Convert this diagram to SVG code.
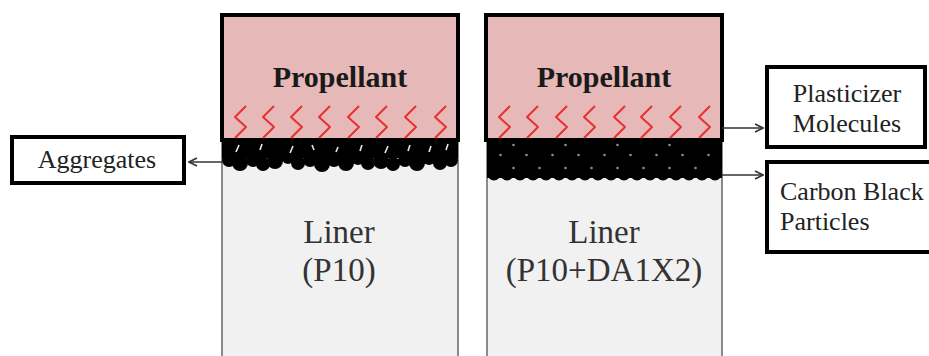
<svg xmlns="http://www.w3.org/2000/svg" width="929" height="356" viewBox="0 0 929 356">
  <style>
    .liner { fill: #f1f1f1; stroke: #8a8a8a; stroke-width: 2; }
    .prop { fill: #e6b9b8; stroke: #000; stroke-width: 4; }
    .label { fill: #fff; stroke: #000; stroke-width: 4; }
    .ptxt { font-family: "Liberation Serif", serif; font-weight: bold; font-size: 30px; fill: #1a1a1a; text-anchor: middle; }
    .ltxt { font-family: "Liberation Serif", serif; font-size: 33px; fill: #333; text-anchor: middle; }
    .btxt { font-family: "Liberation Serif", serif; font-size: 26px; fill: #222; }
    .zig { fill: none; stroke: #e8302f; stroke-width: 2; stroke-linejoin: round; }
    .conn { fill: none; stroke: #333; stroke-width: 1.5; }
    .slit { stroke: #e8e8e8; stroke-width: 1.6; }
  </style>
  <defs>
    <marker id="open" viewBox="0 0 10 10" refX="9" refY="5" markerWidth="10" markerHeight="10" markerUnits="userSpaceOnUse" orient="auto">
      <path d="M1,1 L9,5 L1,9" fill="none" stroke="#333" stroke-width="1.6"/>
    </marker>
    <path id="z" d="M6,0 L-5,11 L6,21 L-5,32"/>
  </defs>

  <rect width="929" height="356" fill="#fff"/>

  <!-- left sample: liner P10 -->
  <g id="liner-p10">
    <rect class="liner" x="222" y="140" width="236" height="220"/>
    <text class="ltxt" x="339" y="243">Liner</text>
    <text class="ltxt" x="339" y="281">(P10)</text>
  </g>

  <!-- right sample: liner P10+DA1X2 -->
  <g id="liner-p10-da1x2">
    <rect class="liner" x="487" y="140" width="235" height="220"/>
    <text class="ltxt" x="604" y="243">Liner</text>
    <text class="ltxt" x="604" y="281">(P10+DA1X2)</text>
  </g>

  <!-- aggregated carbon black at the left interface -->
  <g id="aggregates-layer" fill="#000">
    <rect x="222" y="140" width="236" height="18"/>
    <circle cx="229" cy="160" r="7"/><circle cx="240" cy="163" r="8"/><circle cx="253" cy="160" r="7"/>
    <circle cx="263" cy="164" r="7"/><circle cx="275" cy="161" r="8"/><circle cx="288" cy="158" r="6"/>
    <circle cx="298" cy="163" r="7"/><circle cx="310" cy="160" r="7"/><circle cx="322" cy="164" r="8"/>
    <circle cx="334" cy="160" r="7"/><circle cx="346" cy="163" r="8"/><circle cx="358" cy="159" r="6"/>
    <circle cx="368" cy="163" r="7"/><circle cx="381" cy="161" r="8"/><circle cx="393" cy="164" r="7"/>
    <circle cx="405" cy="160" r="7"/><circle cx="417" cy="163" r="8"/><circle cx="429" cy="159" r="6"/>
    <circle cx="440" cy="163" r="7"/><circle cx="451" cy="160" r="7"/>
  </g>
  <g id="aggregate-gaps" class="slit">
    <line x1="239" y1="145" x2="236" y2="152"/><line x1="262" y1="144" x2="260" y2="150"/>
    <line x1="293" y1="146" x2="290" y2="153"/><line x1="312" y1="145" x2="314" y2="150"/>
    <line x1="338" y1="147" x2="336" y2="152"/><line x1="362" y1="145" x2="360" y2="151"/>
    <line x1="388" y1="146" x2="385" y2="153"/><line x1="410" y1="145" x2="408" y2="151"/>
    <line x1="431" y1="146" x2="429" y2="152"/><line x1="448" y1="144" x2="446" y2="150"/>
  </g>

  <!-- dispersed carbon black particles at the right interface -->
  <g id="particles-layer" fill="#000">
    <rect x="487" y="142" width="235" height="36"/>
    <g id="row1">
      <circle cx="494" cy="149" r="6.5"/><circle cx="507" cy="149" r="6.5"/><circle cx="520" cy="149" r="6.5"/><circle cx="533" cy="149" r="6.5"/><circle cx="546" cy="149" r="6.5"/><circle cx="559" cy="149" r="6.5"/><circle cx="572" cy="149" r="6.5"/><circle cx="585" cy="149" r="6.5"/><circle cx="598" cy="149" r="6.5"/><circle cx="611" cy="149" r="6.5"/><circle cx="624" cy="149" r="6.5"/><circle cx="637" cy="149" r="6.5"/><circle cx="650" cy="149" r="6.5"/><circle cx="663" cy="149" r="6.5"/><circle cx="676" cy="149" r="6.5"/><circle cx="689" cy="149" r="6.5"/><circle cx="702" cy="149" r="6.5"/><circle cx="715" cy="149" r="6.5"/>
    </g>
    <use href="#row1" x="0" y="25"/>
    <use href="#row1" x="0" y="12.5"/>
  </g>
  <g id="particle-gaps" fill="#8d8d8d">
    <circle cx="500.5" cy="155" r="1.3"/><circle cx="526.5" cy="155" r="1.3"/><circle cx="552.5" cy="155" r="1.3"/><circle cx="578.5" cy="155" r="1.3"/><circle cx="604.5" cy="155" r="1.3"/><circle cx="630.5" cy="155" r="1.3"/><circle cx="656.5" cy="155" r="1.3"/><circle cx="682.5" cy="155" r="1.3"/><circle cx="708.5" cy="155" r="1.3"/>
    <circle cx="513.5" cy="168" r="1.3"/><circle cx="539.5" cy="168" r="1.3"/><circle cx="565.5" cy="168" r="1.3"/><circle cx="591.5" cy="168" r="1.3"/><circle cx="617.5" cy="168" r="1.3"/><circle cx="643.5" cy="168" r="1.3"/><circle cx="669.5" cy="168" r="1.3"/><circle cx="695.5" cy="168" r="1.3"/>
    <circle cx="513.5" cy="145" r="1.3"/><circle cx="565.5" cy="145" r="1.3"/><circle cx="617.5" cy="145" r="1.3"/><circle cx="669.5" cy="145" r="1.3"/>
  </g>

  <!-- propellant blocks with plasticizer molecules -->
  <g id="propellant-left">
    <rect class="prop" x="222" y="15" width="236" height="125"/>
    <text class="ptxt" x="340" y="87">Propellant</text>
    <g class="zig">
      <use href="#z" x="240" y="106"/><use href="#z" x="268" y="106"/><use href="#z" x="296" y="106"/><use href="#z" x="324" y="106"/>
      <use href="#z" x="353" y="106"/><use href="#z" x="381" y="106"/><use href="#z" x="410" y="106"/><use href="#z" x="440" y="106"/>
    </g>
  </g>
  <g id="propellant-right">
    <rect class="prop" x="486" y="15" width="236" height="125"/>
    <text class="ptxt" x="604" y="87">Propellant</text>
    <g class="zig">
      <use href="#z" x="504" y="106"/><use href="#z" x="532" y="106"/><use href="#z" x="561" y="106"/><use href="#z" x="589" y="106"/>
      <use href="#z" x="619" y="106"/><use href="#z" x="646" y="106"/><use href="#z" x="675" y="106"/><use href="#z" x="704" y="106"/>
    </g>
  </g>

  <!-- callout labels -->
  <g id="label-aggregates">
    <rect class="label" x="12" y="137" width="172" height="46"/>
    <text class="btxt" x="97" y="168" text-anchor="middle">Aggregates</text>
  </g>
  <g id="label-plasticizer">
    <rect class="label" x="767" y="67" width="158" height="80"/>
    <text class="btxt" x="847" y="102" text-anchor="middle">Plasticizer</text>
    <text class="btxt" x="847" y="132" text-anchor="middle">Molecules</text>
  </g>
  <g id="label-carbon">
    <rect class="label" x="767" y="162" width="166" height="90"/>
    <text class="btxt" x="780" y="200">Carbon Black</text>
    <text class="btxt" x="780" y="230">Particles</text>
  </g>

  <!-- connectors -->
  <g id="connectors">
    <line class="conn" x1="222" y1="162" x2="189" y2="162" marker-end="url(#open)"/>
    <line class="conn" x1="722" y1="128" x2="763" y2="128" marker-end="url(#open)"/>
    <line class="conn" x1="722" y1="175" x2="763" y2="175" marker-end="url(#open)"/>
  </g>
</svg>
